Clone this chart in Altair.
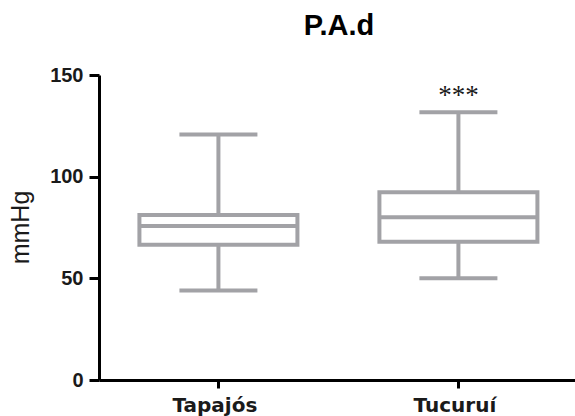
import altair as alt
import pandas as pd

# ---- data ----
groups = ["Tapajós", "Tucuruí"]
whisker_low = [44, 50]
q1 = [66.5, 68]
median = [75.7, 80]
q3 = [81.2, 92.3]
whisker_high = [120.7, 131.7]
significance = ["", "***"]
y_ticks = [0, 50, 100, 150]

df = pd.DataFrame({
    "group": groups,
    "lo": whisker_low,
    "q1": q1,
    "med": median,
    "q3": q3,
    "hi": whisker_high,
    "sig": significance,
})

GRAY = "#a2a2a6"
INK = "#1a1a1a"

x_axis = alt.Axis(
    title=None, labelAngle=0, orient="bottom",
    domainColor="black", domainWidth=3, tickColor="black", tickWidth=3, tickSize=8,
    labelFont="DejaVu Sans", labelFontWeight="bold", labelFontSize=20, labelColor=INK,
    labelBaseline="alphabetic", labelPadding=23, labelOffset=-4, grid=False,
)
x_enc = alt.X("group:N", sort=groups,
              scale=alt.Scale(type="point", padding=0.4917, align=0.506),
              axis=x_axis)

y_axis = alt.Axis(
    title="mmHg", values=y_ticks, grid=False, orient="left",
    domainColor="black", domainWidth=3, tickColor="black", tickWidth=3, tickSize=10,
    labelFont="Liberation Sans", labelFontWeight="bold", labelFontSize=20, labelColor=INK,
    labelPadding=6,
    titleFont="Liberation Sans", titleFontWeight="normal", titleFontSize=25, titleColor=INK,
    titleX=-71, titleY=152, titleBaseline="alphabetic", titleAlign="center",
)
y_scale = alt.Scale(domain=[0, 150], nice=False, zero=True)


def Y(field):
    return alt.Y(field, type="quantitative", scale=y_scale, axis=y_axis)


base = alt.Chart(df)

whisker = base.mark_rule(color=GRAY, strokeWidth=4).encode(
    x=x_enc, y=Y("lo"), y2="hi"
)
box = base.mark_bar(size=158, fill="white", stroke=GRAY, strokeWidth=4).encode(
    x=x_enc, y=Y("q1"), y2="q3"
)
med = base.mark_tick(size=158, thickness=4, color=GRAY, opacity=1).encode(
    x=x_enc, y=Y("med")
)
cap_lo = base.mark_tick(size=78, thickness=4, color=GRAY, opacity=1).encode(
    x=x_enc, y=Y("lo")
)
cap_hi = base.mark_tick(size=78, thickness=4, color=GRAY, opacity=1).encode(
    x=x_enc, y=Y("hi")
)
stars = base.mark_text(font="Liberation Serif", fontSize=27, dy=-8,
                       baseline="alphabetic", color=INK).encode(
    x=x_enc, y=Y("hi"), text="sig:N"
)

chart = alt.layer(whisker, box, med, cap_lo, cap_hi, stars).properties(
    width=476, height=305,
    autosize="none",
    background="white",
    padding={"left": 99, "top": 75, "right": 0, "bottom": 36},
    title=alt.TitleParams(
        text="P.A.d", font="Liberation Sans", fontSize=29, fontWeight="bold",
        color="black", anchor="middle", frame="group", baseline="alphabetic",
        offset=1, dx=2,
    ),
).configure_view(stroke=None, strokeWidth=0)

chart.save("out.html", embed_options={"renderer": "svg", "actions": False})
